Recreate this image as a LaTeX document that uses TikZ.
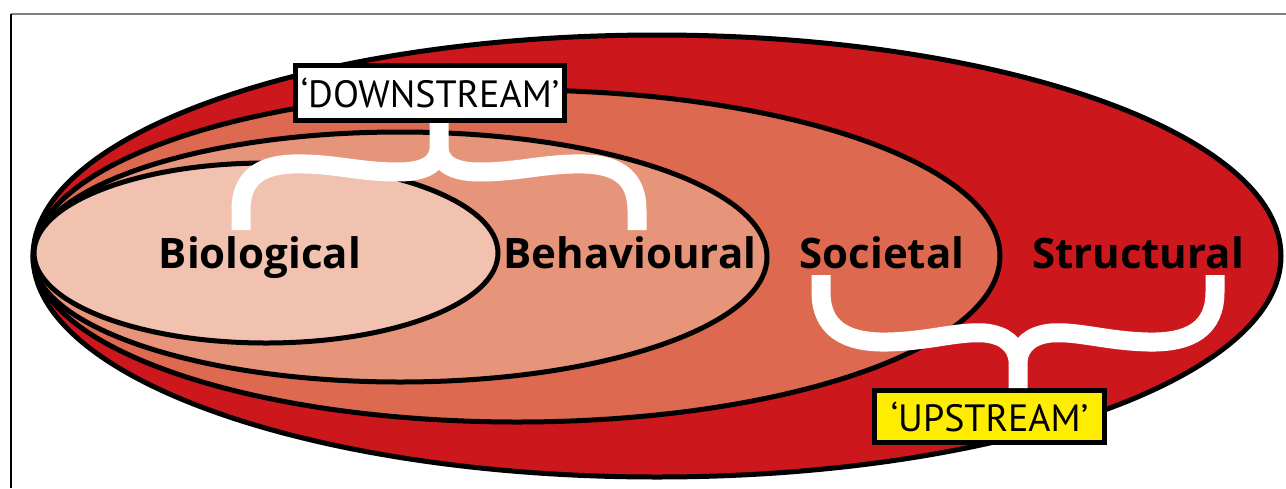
\documentclass[tikz,border=0pt]{standalone}
\usepackage{fontspec}
\setmainfont{PT Sans}
\newfontfamily\lblfont{Open Sans}
\usetikzlibrary{positioning}
\definecolor{cstruct}{HTML}{CC181D}
\definecolor{csoc}{HTML}{DD6950}
\definecolor{cbeh}{HTML}{E6957A}
\definecolor{cbio}{HTML}{F0C2AF}
\definecolor{cyell}{HTML}{FFED00}
\definecolor{cframe}{HTML}{808080}

\begin{document}
\begin{tikzpicture}[x=.5pt, y=-.5pt,
    layer/.style={draw=black, line width=2.5pt},
    lbl/.style={font={\lblfont\bfseries\fontsize{21}{24}\selectfont}, inner sep=0pt, anchor=base},
    tag/.style={draw=black, line width=2.5pt, inner sep=0pt, font=\fontsize{19}{22}\selectfont},
    brace/.style={white, line width=9.5pt}]
      \useasboundingbox (0,0) rectangle (1286,488);
      \draw[cframe, line width=1pt] (11,14) -- (1286,14);
      \draw[line width=.8pt] (11,14) -- (11,488);
      % nested layers, outermost first
      \draw[layer, fill=cstruct] (657,256) ellipse [x radius=624, y radius=221];
      \draw[layer, fill=csoc] (517,256) ellipse [x radius=483, y radius=166];
      \draw[layer, fill=cbeh] (400,257) ellipse [x radius=367, y radius=125];
      \draw[layer, fill=cbio] (266,253) ellipse [x radius=232, y radius=90];
      \node[lbl] (bio) at (260,268) {Biological};
      \node[lbl] (beh) at (630,268) {Behavioural};
      \node[lbl] (soc) at (882,268) {Societal};
      \node[lbl] (str) at (1138,268) {Structural};
      \node[tag, fill=white, minimum width=134.5pt, minimum height=27.5pt] (down) at (430,93) {‘DOWNSTREAM’};
      \node[tag, fill=cyell, minimum width=115pt, minimum height=26pt] (up) at (989.5,416.5) {‘UPSTREAM’};
      % braces
      \coordinate (dtip) at (439,150);
      \coordinate (bioEnd) at (241,230);
      \coordinate (behEnd) at (637,230);
      \draw[brace] (bioEnd) -- (241,210) .. controls (241,180) and (258,165) .. (293,164) .. controls (333,163) and (358,172) .. (398,172) .. controls (423,172) and (437,165) .. (dtip) -- (dtip |- down.south);
      \draw[brace] (dtip) .. controls (441,165) and (455,172) .. (480,172) .. controls (520,172) and (545,163) .. (585,164) .. controls (620,165) and (637,180) .. (637,210) -- (behEnd);
      \coordinate (utip) at (1018,360);
      \coordinate (socEnd) at (821,275);
      \coordinate (strEnd) at (1215,275);
      \draw[brace] (socEnd) -- (821,292) .. controls (821,328) and (845,343) .. (888,342) .. controls (930,341) and (958,331) .. (985,333) .. controls (1005,335) and (1016,345) .. (utip) -- (utip |- up.north);
      \draw[brace] (utip) .. controls (1020,345) and (1031,335) .. (1051,333) .. controls (1078,331) and (1106,341) .. (1148,342) .. controls (1191,343) and (1215,328) .. (1215,292) -- (strEnd);
\end{tikzpicture}
\end{document}
